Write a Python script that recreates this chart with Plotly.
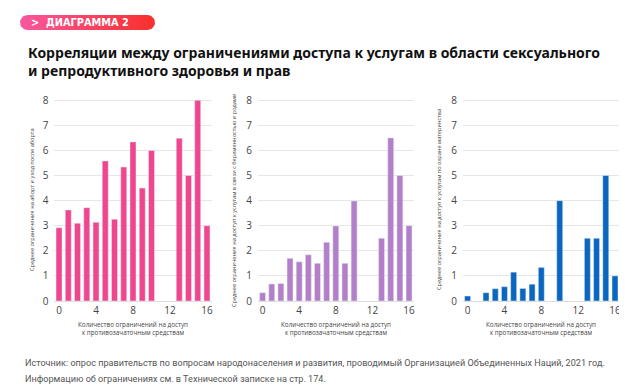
import plotly.graph_objects as go
import math

W, H = 627, 388
OFF = 8  # page body margin of the browser
FW, FH = W - OFF, H - OFF

# ---- data ----
x_cats = list(range(17))
abortion = [2.92, 3.63, 3.1, 3.72, 3.14, 5.58, 3.26, 5.34, 6.34, 4.5, 6.0, None, None, 6.49, 5.0, 8.0, 3.0]
pregnancy = [0.33, 0.68, 0.7, 1.7, 1.56, 1.84, 1.5, 2.34, 2.99, 1.5, 3.99, None, None, 2.5, 6.5, 5.0, 3.0]
maternity = [0.2, None, 0.33, 0.49, 0.57, 1.15, 0.5, 0.67, 1.34, None, 4.0, None, None, 2.5, 2.5, 5.0, 1.0]

x_ticks = [0, 4, 8, 12, 16]
y_ticks = [0, 1, 2, 3, 4, 5, 6, 7, 8]

series = [abortion, pregnancy, maternity]
colors = ["#F0468E", "#B37FC8", "#0B66C0"]
y_titles = [
    "Среднее ограничения на аборт и уход после аборта",
    "Среднее ограничения на доступ к услугам в связи с беременностью и родами",
    "Среднее ограничения на доступ к услугам по охране материнства",
]
x_title = "Количество ограничений на доступ<br>к противозачаточным средствам"

title = ("Корреляции между ограничениями доступа к услугам в области сексуального<br>"
         "и репродуктивного здоровья и прав")
badge = ">  ДИАГРАММА 2"
source_lines = [
    "Источник: опрос правительств по вопросам народонаселения и развития, проводимый Организацией Объединенных Наций, 2021 год.",
    "Информацию об ограничениях см. в Технической записке на стр. 174.",
]


def fx(p):
    return (p - OFF) / FW


def fy(p):
    return 1 - (p - OFF) / FH


# ---- layout positions (px in the window) ----
x_domains_px = [(54.4, 211.6), (258, 413.6), (463, 619.6)]
y_bottom_px, y_top_px = 301, 99
ytitle_x_px = [32, 234, 439]

fig = go.Figure()
font_main = "Open Sans, Lato, sans-serif"

annotations = []
for i, (vals, col) in enumerate(zip(series, colors)):
    idx = "" if i == 0 else str(i + 1)
    fig.add_trace(go.Bar(x=x_cats, y=vals, marker_color=col, width=0.65,
                         xaxis="x" + idx, yaxis="y" + idx, showlegend=False))
    xl, xr = x_domains_px[i]
    fig.update_layout(**{
        "xaxis" + idx: dict(domain=[fx(xl), fx(xr)], range=[-0.5, 16.5],
                            tickvals=x_ticks, showgrid=False, zeroline=False,
                            showline=True, linecolor="#dddddd", linewidth=1,
                            ticks="", ticklen=0, automargin=False,
                            tickfont=dict(size=10, color="#444", family=font_main),
                            anchor="y" + idx, fixedrange=True),
        "yaxis" + idx: dict(domain=[fy(y_bottom_px), fy(y_top_px)],
                            range=[0, 8.05], tickvals=y_ticks, automargin=False,
                            showgrid=True, gridcolor="#e6e6e6", gridwidth=1,
                            zeroline=False, showline=False, ticks="",
                            ticklabelstandoff=5,
                            tickfont=dict(size=10, color="#444", family=font_main),
                            anchor="x" + idx, fixedrange=True),
    })
    annotations.append(dict(text=y_titles[i], x=fx(ytitle_x_px[i]),
                            y=fy((y_bottom_px + y_top_px) / 2),
                            xref="paper", yref="paper", textangle=-90,
                            xanchor="center", yanchor="middle", showarrow=False,
                            font=dict(size=5.6, color="#444", family=font_main)))
    annotations.append(dict(text=x_title, x=fx((xl + xr) / 2), y=fy(328),
                            xref="paper", yref="paper", xanchor="center", yanchor="middle",
                            showarrow=False, align="center",
                            font=dict(size=6.3, color="#444", family=font_main)))

# Badge (decorative gradient pill) drawn on a hidden full-page pixel axis
r = 7.5
bx0, bx1, by0, by1 = 20, 155, 15, 30
px, py = [], []
for k in range(0, 19):
    a = math.pi / 2 + math.pi * k / 18
    px.append(bx0 + r + r * math.cos(a)); py.append((by0 + by1) / 2 - r * math.sin(a))
for k in range(0, 19):
    a = -math.pi / 2 + math.pi * k / 18
    px.append(bx1 - r + r * math.cos(a)); py.append((by0 + by1) / 2 - r * math.sin(a))
fig.add_trace(go.Scatter(x=px, y=py, fill="toself", mode="lines", line=dict(width=0),
                         fillgradient=dict(type="horizontal",
                                           colorscale=[[0, "#F8589F"], [1, "#F8302C"]]),
                         xaxis="x4", yaxis="y4", showlegend=False, hoverinfo="skip"))
fig.update_layout(
    xaxis4=dict(domain=[0, 1], range=[OFF, W], visible=False, fixedrange=True, anchor="y4", automargin=False),
    yaxis4=dict(domain=[0, 1], range=[H, OFF], visible=False, fixedrange=True, anchor="x4", automargin=False),
)

annotations.append(dict(text=badge, x=fx(29), y=fy(22.5), xref="paper", yref="paper",
                        xanchor="left", yanchor="middle", showarrow=False,
                        font=dict(size=9.8, color="white", family="DejaVu Sans, sans-serif", weight="bold")))
annotations.append(dict(text=title, x=fx(27), y=fy(61.5), xref="paper", yref="paper",
                        xanchor="left", yanchor="middle", align="left", showarrow=False,
                        borderpad=0,
                        font=dict(size=14, color="#111", family="Noto Sans, sans-serif", weight="bold")))
for j, line in enumerate(source_lines):
    annotations.append(dict(text=line, x=fx(23), y=fy(363 + 16 * j), xref="paper", yref="paper",
                            xanchor="left", yanchor="middle", align="left", showarrow=False,
                            font=dict(size=9.1, color="#555", family="Roboto, sans-serif")))

fig.update_layout(width=FW, height=FH, margin=dict(l=0, r=0, t=0, b=0, pad=0),
                  paper_bgcolor="white", plot_bgcolor="rgba(0,0,0,0)",
                  bargap=0.35, annotations=annotations)

fig.write_html("out.html")
